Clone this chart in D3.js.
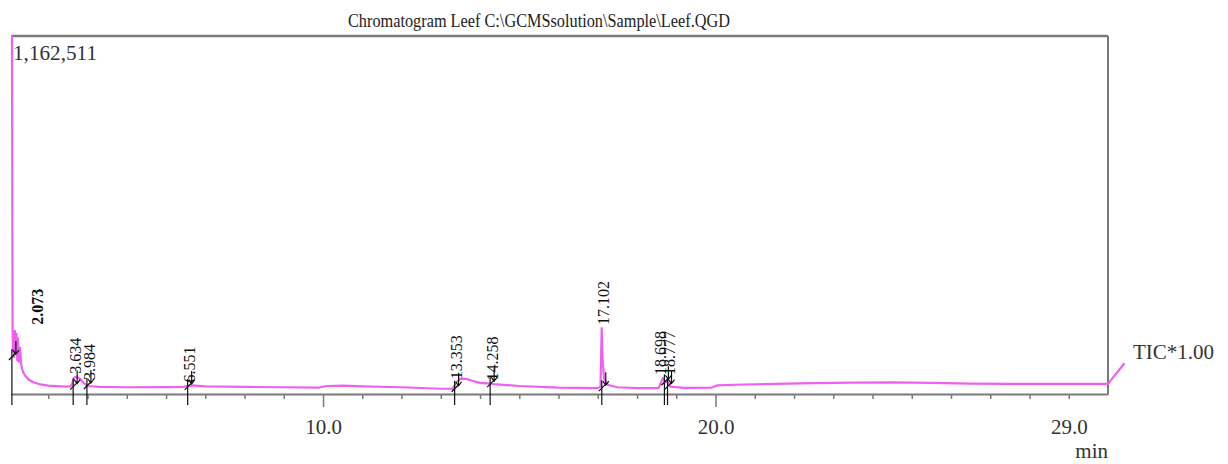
<!DOCTYPE html>
<html>
<head>
<meta charset="utf-8">
<script src="https://cdn.jsdelivr.net/npm/d3@7"></script>
<style>
  body { margin: 0; background: #fff; }
  svg { display: block; font-family: "Liberation Serif", "DejaVu Serif", serif; }
  .axis path, .axis line { stroke: #7a7a7a; }
  .axis text { fill: #333; font-size: 21px; font-family: "Liberation Serif", serif; }
</style>
</head>
<body>
<svg class="svg-chrom" width="1228" height="464"></svg>
<script>
// chromatogram trace (minutes / counts)
const traceTime = [2.05, 2.075, 2.09, 2.10, 2.11, 2.13, 2.15, 2.17, 2.19, 2.21, 2.23, 2.25, 2.28, 2.31,
  2.36, 2.42, 2.5, 2.62, 2.8, 3.0, 3.3, 3.55, 3.6, 3.65, 3.72, 3.8, 3.9, 4.0, 4.3, 5.0, 6.0, 6.45,
  6.55, 6.65, 7.0, 8.0, 9.0, 9.9, 10.1, 10.5, 11.0, 12.0, 13.0, 13.3, 13.4, 13.5, 13.65, 13.8, 14.0,
  14.25, 14.35, 15.0, 16.0, 17.0, 17.07, 17.1, 17.12, 17.16, 17.25, 17.5, 18.0, 18.55, 18.62, 18.66,
  18.72, 18.78, 18.85, 19.2, 19.9, 20.05, 20.5, 21.5, 22.5, 23.5, 24.5, 25.5, 26.5, 27.5, 28.5, 29.5,
  30.0, 30.42];
const traceIntensity = [1162511, 1162511, 215000, 140000, 200000, 120000, 205000, 130000, 195000, 110000,
  180000, 105000, 150000, 95000, 70000, 58000, 47000, 38000, 31000, 27000, 25000, 24000, 30000, 52000,
  56000, 50000, 36000, 26000, 23000, 22000, 22500, 23000, 26000, 28000, 25000, 23000, 22000, 21000,
  26000, 27500, 25000, 22000, 17000, 17000, 38000, 50000, 49000, 43000, 36000, 34000, 32000, 26000,
  21000, 19000, 24000, 214000, 120000, 50000, 30000, 22000, 19000, 19000, 40000, 52000, 38000, 40000,
  24000, 20000, 21000, 28000, 30000, 33000, 35000, 37000, 38000, 36000, 34000, 33000, 33000, 33000,
  33000, 100000];

// integrated peaks
const peakLabels = ["2.073", "3.634", "3.984", "6.551", "13.353", "14.258", "17.102", "18.698", "18.777"];
const peakTimes = [2.073, 3.634, 3.984, 6.551, 13.353, 14.258, 17.102, 18.698, 18.777];

const tickValues = d3.range(3, 30);
const tickLabelValues = [10, 20, 29];
const tickLabels = ["10.0", "20.0", "29.0"];

const titleText = "Chromatogram Leef C:\\GCMSsolution\\Sample\\Leef.QGD";
const maxCount = 1162511;
const maxLabel = "1,162,511";
const traceLabel = "TIC*1.00";
const unitLabel = "min";

const svg = d3.select(".svg-chrom");
const frame = { left: 11, right: 1108, top: 36, bottom: 394 };

const x = d3.scaleLinear().domain([2.05, 30]).range([frame.left, frame.right]);
const y = d3.scaleLinear().domain([0, maxCount]).range([frame.bottom, frame.top]);

const trace = traceTime.map(function (t, i) { return { t: t, v: traceIntensity[i] }; });

function valueAt(t) {
  const i = d3.bisector(function (d) { return d.t; }).left(trace, t);
  if (i <= 0) return trace[0].v;
  if (i >= trace.length) return trace[trace.length - 1].v;
  const a = trace[i - 1], b = trace[i];
  return a.v + (b.v - a.v) * (t - a.t) / (b.t - a.t);
}

// lowest / highest trace point near a retention time (the solvent front is left out)
function localExtent(rt, w) {
  const near = trace.filter(function (d) { return Math.abs(d.t - rt) <= w && d.v < 500000; })
    .map(function (d) { return d.v; });
  const v = valueAt(rt);
  if (v < 500000) near.push(v);
  return [d3.min(near), d3.max(near)];
}

// frame: top and right edges
svg.append("line")
  .attr("x1", frame.left).attr("x2", frame.right).attr("y1", frame.top).attr("y2", frame.top)
  .attr("stroke", "#7a7a7a").attr("stroke-width", 2.5);
svg.append("line")
  .attr("x1", frame.right).attr("x2", frame.right).attr("y1", frame.top).attr("y2", frame.bottom)
  .attr("stroke", "#7a7a7a").attr("stroke-width", 2);

// x axis, minute ticks, longer at 10 and 20
const xAxis = d3.axisBottom(x)
  .tickValues(tickValues)
  .tickSize(5)
  .tickSizeOuter(0)
  .tickPadding(20)
  .tickFormat(function (d) {
    const k = tickLabelValues.indexOf(d);
    return k < 0 ? "" : tickLabels[k];
  });

const gx = svg.append("g")
  .attr("class", "axis axis--x")
  .attr("transform", "translate(0," + frame.bottom + ")")
  .call(xAxis);
gx.select(".domain").attr("stroke-width", 2);
gx.selectAll(".tick line")
  .attr("stroke-width", 1.5)
  .attr("y2", function (d) { return (d === 10 || d === 20) ? 13 : 5; });

svg.append("text")
  .attr("x", frame.right).attr("y", 458)
  .attr("text-anchor", "end")
  .attr("font-size", 21).attr("fill", "#333")
  .text(unitLabel);

// trace
const line = d3.line()
  .x(function (d) { return x(d.t); })
  .y(function (d) { return y(d.v); });

svg.append("path")
  .datum(trace)
  .attr("fill", "none")
  .attr("stroke", "#f060f0")
  .attr("stroke-width", 2.2)
  .attr("stroke-linejoin", "round")
  .attr("d", line);

// peak marks near the baseline and rotated retention time labels over each peak
const labelShift = { "2.073": 25, "18.698": -4 };
const marks = svg.append("g").attr("class", "peaks");

peakTimes.forEach(function (rt, i) {
  const ext = localExtent(rt, 0.12);
  const px = x(rt);
  const pb = y(ext[0]);
  marks.append("line")
    .attr("x1", px).attr("x2", px)
    .attr("y1", pb - 8).attr("y2", frame.bottom + 11)
    .attr("stroke", "#111").attr("stroke-width", 1.2);
  marks.append("path")
    .attr("d", "M" + (px - 3) + "," + (pb + 3) + "L" + (px + 4) + "," + (pb - 4)
      + "M" + (px + 4) + "," + (pb - 16) + "L" + (px + 4) + "," + (pb - 3)
      + "M" + (px + 1) + "," + (pb - 7) + "L" + (px + 4) + "," + (pb - 3) + "L" + (px + 7) + "," + (pb - 7))
    .attr("fill", "none").attr("stroke", "#111").attr("stroke-width", 1.2);

  const lx = px + (labelShift[peakLabels[i]] !== undefined ? labelShift[peakLabels[i]] : 2);
  const ly = y(ext[1]) - 3;
  marks.append("text")
    .attr("transform", "translate(" + lx + "," + ly + ") rotate(-90)")
    .attr("dy", "0.35em")
    .attr("font-size", 16)
    .attr("font-weight", i === 0 ? "bold" : "normal")
    .attr("fill", "#111")
    .text(peakLabels[i]);
});

// header texts
svg.append("text")
  .attr("x", 539).attr("y", 27)
  .attr("text-anchor", "middle")
  .attr("font-size", 19).attr("fill", "#222")
  .attr("textLength", 382).attr("lengthAdjust", "spacingAndGlyphs")
  .text(titleText);

svg.append("text")
  .attr("x", 13).attr("y", 60)
  .attr("font-size", 21).attr("fill", "#333")
  .attr("textLength", 84).attr("lengthAdjust", "spacingAndGlyphs")
  .text(maxLabel);

svg.append("text")
  .attr("x", 1133).attr("y", 359)
  .attr("font-size", 21).attr("fill", "#333")
  .text(traceLabel);
</script>
</body>
</html>
